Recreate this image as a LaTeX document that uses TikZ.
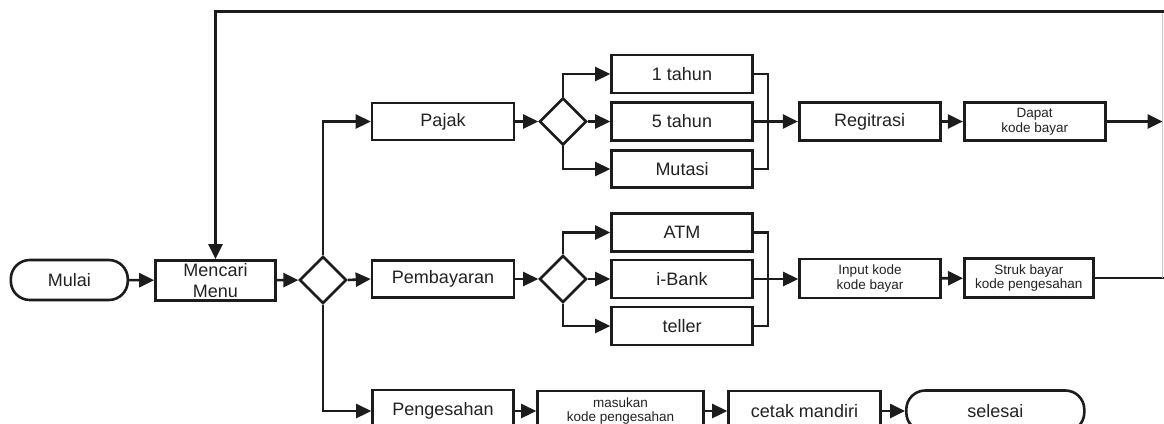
\documentclass[tikz,border=0pt]{standalone}
\usepackage{fontspec}
\setmainfont{Liberation Sans}
\usetikzlibrary{shapes.geometric,arrows.meta}
\definecolor{ink}{HTML}{1C1C1C}
\definecolor{txt}{HTML}{222222}
\tikzset{
  big/.style={font=\fontsize{18}{20.7}\selectfont},
  small/.style={font=\fontsize{13.5}{14.8}\selectfont},
  box/.style={draw=ink, line width=2.6pt, rectangle, inner sep=0pt, align=center, text=txt},
  term/.style={box, rounded corners=19pt},
  choice/.style={draw=ink, line width=2.6pt, diamond, inner sep=0pt, minimum width=47pt, minimum height=47pt},
  conn/.style={draw=ink, line width=2.6pt},
  arr/.style={conn, -{Triangle[length=15pt,width=14pt]}},
}
\begin{document}
\begin{tikzpicture}[x=1pt, y=-1pt]
\useasboundingbox (0,0) rectangle (1164,423);
\clip (0,0) rectangle (1164,423);
\fill[white] (0,0) rectangle (1164,423);

% main line
\node[term, big, minimum width=117pt, minimum height=40pt] (mulai) at (69.3,280) {Mulai};
\node[box, big, minimum width=120pt, minimum height=40pt] (mencari) at (215.5,280.3) {Mencari\\Menu};
\node[choice] (d0) at (323,280) {};

% Pajak branch
\node[box, big, minimum width=142pt, minimum height=37pt] (pajak) at (443,121.5) {Pajak};
\node[choice] (d1) at (563,121.5) {};
\node[box, big, minimum width=141pt, minimum height=38pt] (t1) at (682,74) {1 tahun};
\node[box, big, minimum width=141pt, minimum height=38pt] (t5) at (682,121.5) {5 tahun};
\node[box, big, minimum width=141pt, minimum height=37pt] (mutasi) at (682,169) {Mutasi};
\node[box, big, minimum width=141pt, minimum height=38pt] (reg) at (869.7,121.5) {Regitrasi};
\node[box, small, minimum width=141pt, minimum height=38pt] (dapat) at (1034.7,121.5) {Dapat\\kode bayar};

% Pembayaran branch
\node[box, big, minimum width=142pt, minimum height=37.5pt] (pemb) at (443,279) {Pembayaran};
\node[choice] (d2) at (563,279) {};
\node[box, big, minimum width=141pt, minimum height=38pt] (atm) at (682,232.5) {ATM};
\node[box, big, minimum width=141pt, minimum height=38pt] (ibank) at (682,279) {i-Bank};
\node[box, big, minimum width=141pt, minimum height=38pt] (teller) at (682,326) {teller};
\node[box, small, minimum width=141pt, minimum height=39pt] (input) at (870,278.5) {Input kode\\kode bayar};
\node[box, small, minimum width=129pt, minimum height=39pt] (struk) at (1028.8,278) {Struk bayar\\kode pengesahan};

% Pengesahan branch
\node[box, big, minimum width=141pt, minimum height=42pt] (peng) at (443,411) {Pengesahan};
\node[box, small, minimum width=166pt, minimum height=40pt] (masuk) at (620.5,411) {masukan\\kode pengesahan};
\node[box, big, minimum width=152pt, minimum height=40pt] (cetak) at (804.5,411) {cetak mandiri};
\node[term, big, minimum width=178pt, minimum height=41pt] (selesai) at (995.3,411) {selesai};

% bus and loop points
\coordinate (busP) at (768,121.5);
\coordinate (busB) at (768,279);
\coordinate (tr) at (1164,11.7);
\coordinate (tl) at (215.5,11.7);
\coordinate (rt) at (1162.5,11.7);
\coordinate (rb) at (1162.5,278);

% connectors: start
\draw[arr] (mulai) -- (mencari);
\draw[arr] (mencari) -- (d0);
\draw[arr] (d0.north) |- (pajak.west);
\draw[arr] (d0.east) -- (pemb.west);
\draw[arr] (d0.south) |- (peng.west);

% connectors: Pajak
\draw[arr] (pajak) -- (d1);
\draw[arr] (d1.north) |- (t1.west);
\draw[arr] (d1.east) -- (t5.west);
\draw[arr] (d1.south) |- (mutasi.west);
\draw[conn] (t1.east) -| (busP) |- (mutasi.east);
\draw[arr] (t5.east) -- (reg.west);
\draw[arr] (reg) -- (dapat);
\draw[arr] (dapat.east) -- (dapat.east -| rb);

% connectors: Pembayaran
\draw[arr] (pemb) -- (d2);
\draw[arr] (d2.north) |- (atm.west);
\draw[arr] (d2.east) -- (ibank.west);
\draw[arr] (d2.south) |- (teller.west);
\draw[conn] (atm.east) -| (busB) |- (teller.east);
\draw[arr] (ibank.east) -- (ibank.east -| input.west);
\draw[arr] (input) -- (struk);
\draw[conn] (struk.east) -- (struk.east -| tr);

% connectors: Pengesahan
\draw[arr] (peng) -- (masuk);
\draw[arr] (masuk) -- (cetak);
\draw[arr] (cetak) -- (selesai);

% return loop to the menu
\draw[gray!45, line width=1.5pt] (rb) -- (rt);
\draw[arr] (tr) -- (tl) -- (mencari.north);
\end{tikzpicture}
\end{document}
